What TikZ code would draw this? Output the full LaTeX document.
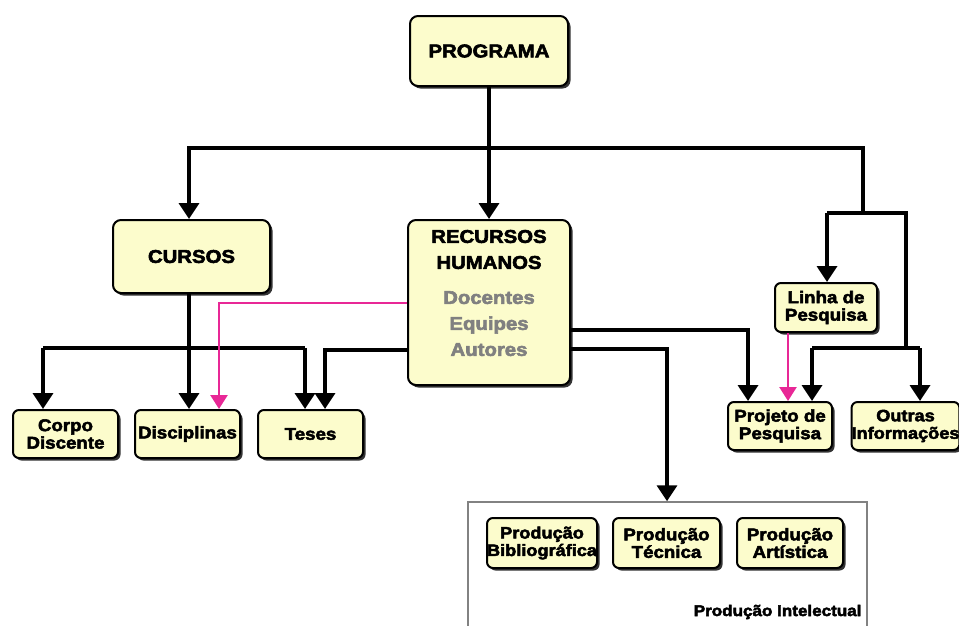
\documentclass[tikz,border=0pt]{standalone}
\usepackage{fontspec}
\setmainfont{Liberation Sans}
\newfontfamily\hv{Liberation Sans}[FakeStretch=1.1, FakeBold=3]
\usetikzlibrary{arrows.meta,shadows,calc}
\definecolor{boxfill}{RGB}{252,252,204}
\definecolor{pinkline}{RGB}{232,40,150}
\definecolor{txtgray}{RGB}{128,128,128}
\definecolor{framegray}{RGB}{130,130,130}
\tikzset{
  boxbase/.style={draw=black, line width=2pt, fill=boxfill, inner sep=0pt, align=center,
    general shadow={fill=black!80, shadow xshift=2.5pt, shadow yshift=-2.5pt}},
  bigbox/.style={boxbase, rounded corners=8pt, font=\hv\bfseries\fontsize{18.5}{22}\selectfont},
  smallbox/.style={boxbase, rounded corners=6pt, minimum width=105pt, minimum height=48pt,
    font=\hv\bfseries\fontsize{17}{17.5}\selectfont},
  arr/.style={draw=black, line width=3.5pt, -{Triangle[width=20pt,length=16pt]}},
  ln/.style={draw=black, line width=3.5pt},
  parr/.style={draw=pinkline, line width=2.5pt, -{Triangle[width=17pt,length=14pt]}},
}
\begin{document}
\begin{tikzpicture}[x=1pt,y=-1pt]
\useasboundingbox (0,0) rectangle (959,625);
\clip (0,0) rectangle (959,625);
\fill[white] (0,0) rectangle (959,625);

% Producao Intelectual frame
\node[draw=framegray, line width=1.5pt, minimum width=399pt, minimum height=150pt, inner sep=0pt] (pframe) at (667.5,577) {};
\node[anchor=east, font=\hv\bfseries\fontsize{15.5}{16}\selectfont] (plabel) at (865,612) {Produção Intelectual};

% boxes
\node[bigbox, minimum width=158pt, minimum height=70pt] (prog) at (489,51) {PROGRAMA};
\node[bigbox, minimum width=157pt, minimum height=73pt] (cursos) at (191.5,256.5) {CURSOS};
\node[bigbox, minimum width=162pt, minimum height=165pt] (rh) at (489,302.5) {};
\node[font=\hv\bfseries\fontsize{18.5}{26}\selectfont, align=center, inner sep=0pt] (rhtext) at (489,293)
  {RECURSOS\\HUMANOS\\[9pt]\textcolor{txtgray}{Docentes}\\\textcolor{txtgray}{Equipes}\\\textcolor{txtgray}{Autores}};

\node[smallbox, minimum width=102pt, minimum height=49pt] (linha) at (826,307.5) {Linha de\\Pesquisa};
\node[smallbox, minimum width=104pt] (proj) at (780,426) {Projeto de\\Pesquisa};
\node[smallbox, font=\hv\bfseries\fontsize{16.5}{17.5}\selectfont] (outras) at (905.5,426) {Outras\\Informações};
\node[smallbox] (corpo) at (65.5,434) {Corpo\\Discente};
\node[smallbox] (disc) at (187.5,434) {Disciplinas};
\node[smallbox] (teses) at (310.5,434) {Teses};
\node[smallbox, minimum width=110pt, minimum height=50pt, font=\hv\bfseries\fontsize{16.5}{17.5}\selectfont] (pb) at (542,543) {Produção\\Bibliográfica};
\node[smallbox, minimum width=107pt, minimum height=50pt] (ptec) at (666.5,543) {Produção\\Técnica};
\node[smallbox, minimum width=106pt, minimum height=50pt] (part) at (790,543) {Produção\\Artística};

% junction coordinates
\coordinate (top) at (189,148);
\coordinate (topr) at (863,148);
\coordinate (rj) at (863,213);
\coordinate (rjl) at (827,213);
\coordinate (rjr) at (906,213);
\coordinate (rjr2) at (906,348);
\coordinate (pjl) at (812,348);
\coordinate (pjr) at (920,348);
\coordinate (rh1) at (748,330);
\coordinate (rh2) at (667,349);
\coordinate (cl) at (43,348);
\coordinate (cr) at (305,348);
\coordinate (cc) at (189,348);
\coordinate (tj) at (325,350);
\coordinate (pk) at (219,303);
\coordinate (lp) at (788,330);

% black connectors
\draw[arr] (prog.south) -- (rh.north);
\draw[arr] (rj) -- (topr) -- (top) -- (cursos.north -| top);
\draw[ln] (rjl) -- (rjr) -- (rjr2);
\draw[ln] (rj) -- (rj |- rjl);
\draw[arr] (rjl) -- (linha.north -| rjl);
\draw[ln] (pjl) -- (pjr);
\draw[arr] (pjl) -- (proj.north -| pjl);
\draw[arr] (pjr) -- (outras.north -| pjr);
\draw[arr] (rh.east |- rh1) -- (rh1) -- (proj.north -| rh1);
\draw[arr] (rh.east |- rh2) -- (rh2) -- (pframe.north -| rh2);
\draw[arr] (cursos.south -| cc) -- (disc.north -| cc);
\draw[ln] (cl) -- (cr);
\draw[arr] (cl) -- (corpo.north -| cl);
\draw[arr] (cr) -- (teses.north -| cr);
\draw[arr] (rh.west |- tj) -- (tj) -- (teses.north -| tj);

% pink connectors
\draw[parr] (rh.west |- pk) -- (pk) -- (disc.north -| pk);
\draw[parr] (linha.south -| lp) -- (proj.north -| lp);
\end{tikzpicture}
\end{document}
